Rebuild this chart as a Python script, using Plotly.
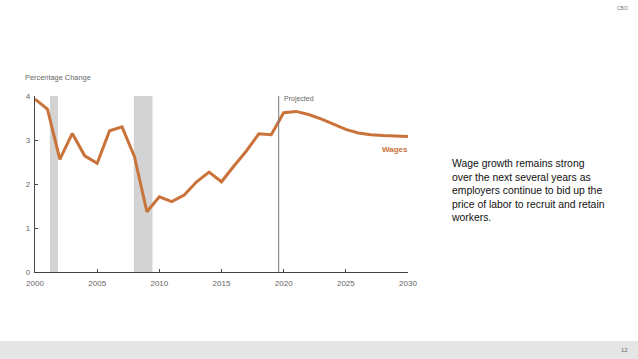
import plotly.graph_objects as go

years = list(range(2000, 2031))
wages = [3.93, 3.70, 2.56, 3.15, 2.64, 2.47, 3.21, 3.30, 2.62, 1.37,
         1.71, 1.60, 1.75, 2.05, 2.27, 2.05, 2.41, 2.75, 3.14, 3.12,
         3.62, 3.65, 3.58, 3.48, 3.36, 3.24, 3.16, 3.12, 3.10, 3.09, 3.08]
recessions = [(2001.2, 2001.85), (2007.95, 2009.45)]
projected_start = 2019.6
x_ticks = [2000, 2005, 2010, 2015, 2020, 2025, 2030]
y_ticks = [0, 1, 2, 3, 4]
orange = "#C9733A"
note = ("Wage growth remains strong<br>over the next several years as<br>"
        "employers continue to bid up the<br>price of labor to recruit and retain<br>workers.")

fig = go.Figure()
fig.add_trace(go.Scatter(x=years, y=wages, mode="lines",
                         line=dict(color=orange, width=3.0), hoverinfo="skip"))

shapes = []
for a, b in recessions:
    shapes.append(dict(type="rect", xref="x", yref="y", x0=a, x1=b, y0=0, y1=4,
                       fillcolor="#d3d3d3", line=dict(width=0), layer="below"))
shapes.append(dict(type="line", xref="x", yref="y", x0=projected_start, x1=projected_start,
                   y0=0, y1=4.0, line=dict(color="#777777", width=1)))
# bottom band
L, W, T, H = 35, 373, 96, 176
shapes.append(dict(type="rect", xref="paper", yref="paper",
                   x0=-L / W, x1=(638 - L) / W, y0=(272 - 359) / H, y1=(272 - 341) / H,
                   fillcolor="#e5e5e5", line=dict(width=0), layer="below"))

annotations = [
    dict(text="Percentage Change", xref="paper", yref="paper", x=(23 - L) / W, y=(272 - 77) / H,
         xanchor="left", yanchor="middle", showarrow=False,
         font=dict(size=7.4, color="#666666", family="Liberation Sans")),
    dict(text="Projected", xref="x", yref="paper", x=projected_start + 0.3, y=(272 - 99) / H,
         xanchor="left", yanchor="middle", showarrow=False,
         font=dict(size=7, color="#666666", family="Liberation Sans")),
    dict(text="<b>Wages</b>", xref="paper", yref="paper", x=(410 - L) / W, y=(272 - 149) / H,
         xanchor="right", yanchor="middle", showarrow=False,
         font=dict(size=8, color=orange, family="Liberation Sans")),
    dict(text=note, xref="paper", yref="paper", x=(449 - L) / W, y=(272 - 156) / H,
         xanchor="left", yanchor="top", align="left", showarrow=False,
         font=dict(size=10.4, color="#111111", family="Liberation Sans")),
    dict(text="CBO", xref="paper", yref="paper", x=(630 - L) / W, y=(272 - 8) / H,
         xanchor="right", yanchor="middle", showarrow=False,
         font=dict(size=5, color="#777777", family="Liberation Sans")),
    dict(text="12", xref="paper", yref="paper", x=(630 - L) / W, y=(272 - 350) / H,
         xanchor="right", yanchor="middle", showarrow=False,
         font=dict(size=6, color="#666666", family="Liberation Sans")),
]

fig.update_layout(
    width=638, height=359,
    margin=dict(l=L, r=638 - L - W, t=T, b=359 - T - H),
    paper_bgcolor="white", plot_bgcolor="white",
    showlegend=False, shapes=shapes, annotations=annotations,
    xaxis=dict(range=[2000, 2030], tickvals=x_ticks, showgrid=False, zeroline=False,
               showline=True, linecolor="#444444", linewidth=1.3,
               ticks="inside", ticklen=3, tickcolor="#444444", ticklabelstandoff=3,
               tickfont=dict(size=8, color="#666666", family="Liberation Sans")),
    yaxis=dict(range=[0, 4], tickvals=y_ticks, showgrid=False, zeroline=False,
               showline=True, linecolor="#444444", linewidth=1.3,
               ticks="inside", ticklen=3, tickcolor="#444444", ticklabelstandoff=2,
               tickfont=dict(size=8, color="#666666", family="Liberation Sans")),
)

fig.write_html("out.html", config={"displayModeBar": False},
               post_script="document.body.style.margin='0';document.body.style.overflow='hidden';")
